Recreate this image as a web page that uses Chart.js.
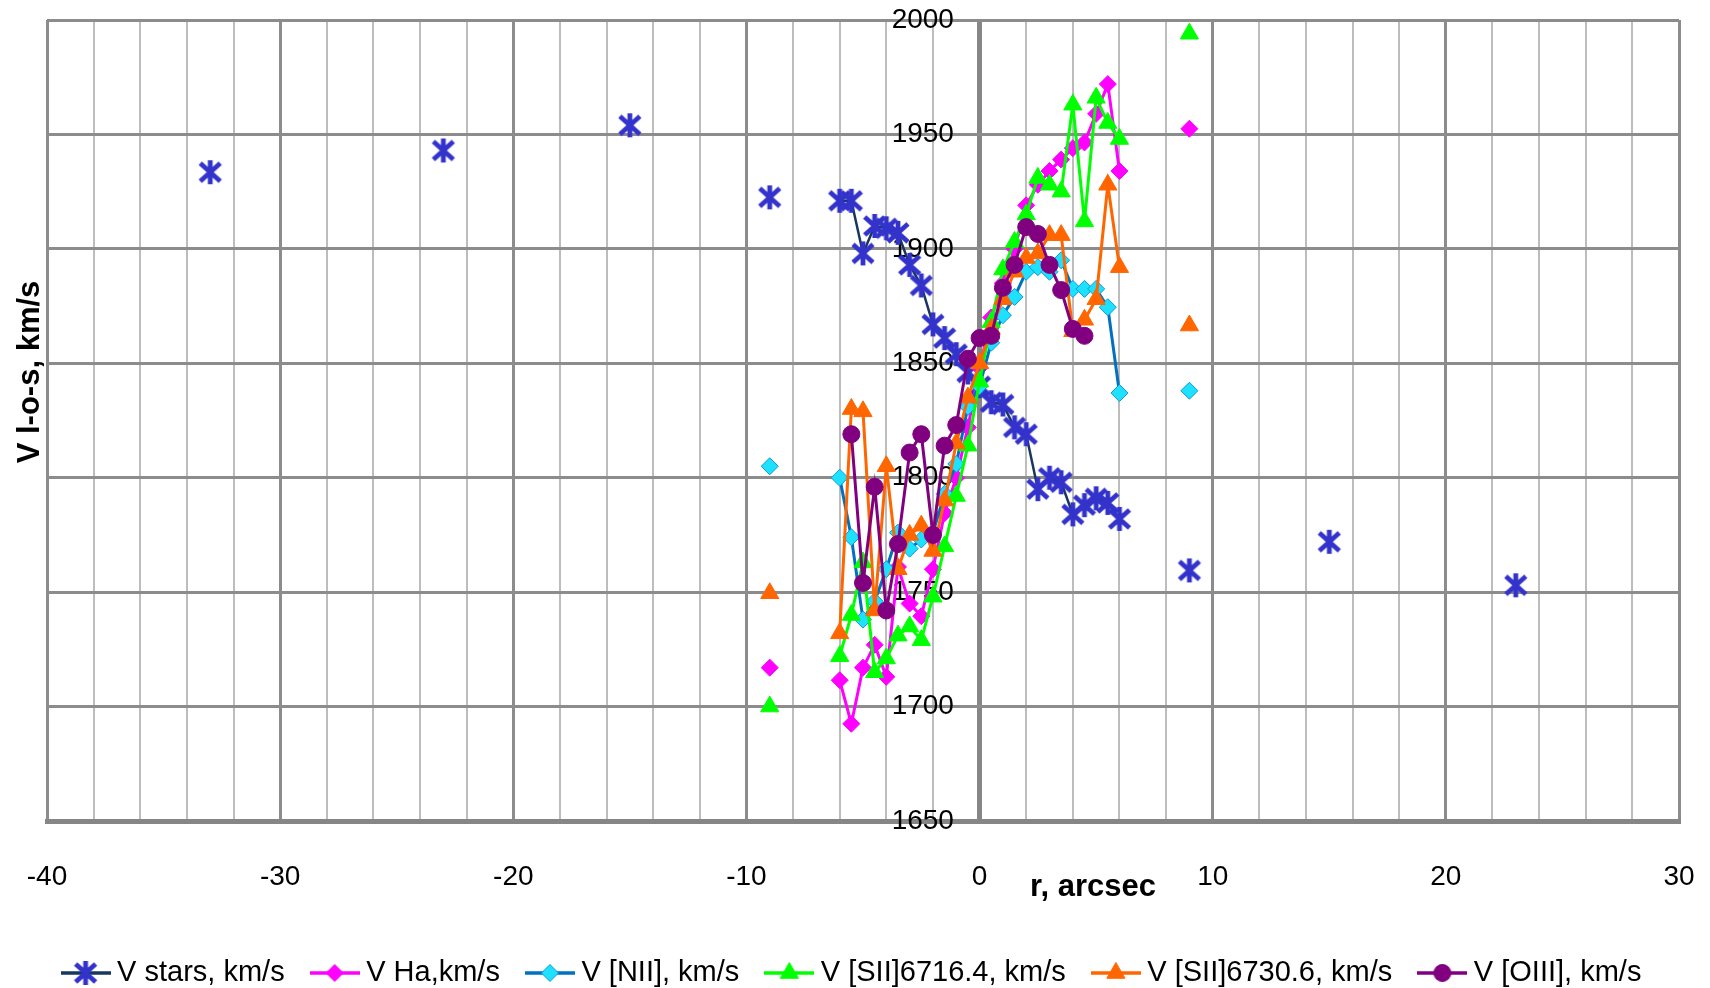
<!DOCTYPE html>
<html>
<head>
<meta charset="utf-8">
<title>V l-o-s vs r</title>
<script src="https://cdn.jsdelivr.net/npm/chart.js@4.4.1/dist/chart.umd.min.js"></script>
<style>
  html, body { margin: 0; padding: 0; background: #fff; }
  canvas { display: block; }
</style>
</head>
<body>
<canvas id="chart" width="1710" height="988"></canvas>
<script>
// slit positions, arcsec (central part sampled every 0.5")
const rCentral = [-6, -5.5, -5, -4.5, -4, -3.5, -3, -2.5, -2, -1.5, -1, -0.5, 0,
                  0.5, 1, 1.5, 2, 2.5, 3, 3.5, 4, 4.5, 5, 5.5, 6];
const rStarsLeft = [-33, -23, -15, -9];
const rStarsRight = [9, 15, 23];
const rGasLeft = [-9];
const rGasRight = [9];
const rNone = [];

// velocities, km/s
const vStars = [1921, 1921, 1898, 1910, 1909, 1907, 1893, 1884, 1867, 1861, 1854, 1846, 1840,
                1833, 1832, 1822, 1819, 1795, 1800, 1798, 1784, 1788, 1791, 1789, 1782];
const vStarsLeft = [1933.5, 1943, 1954, 1922.5];
const vStarsRight = [1759.5, 1772, 1753];

const vHa = [1711.5, 1692.5, 1717, 1727, 1713, 1761, 1745, 1739.5, 1760, 1784.5, 1800, 1822, 1848,
             1870, 1885, 1900, 1919, 1928, 1934, 1939, 1944, 1946.5, 1959, 1972, 1934];
const vHaLeft = [1717];
const vHaRight = [1952.5];

const vNII = [1800, 1774, 1738, 1746, 1760, 1776, 1769, 1773, 1776, 1793, 1806, 1831, 1840,
              1859, 1871, 1879, 1890, 1892, 1890, 1895, 1882.5, 1882.5, 1882.5, 1874.5, 1837];
const vNIILeft = [1805];
const vNIIRight = [1838];

const vSII6716 = [1722, 1740, 1763, 1715, 1721, 1731, 1735, 1729, 1748, 1770, 1792, 1814, 1842,
                  1868, 1891, 1903, 1915, 1931, 1928, 1925, 1963, 1912, 1966, 1955, 1948];
const vSII6716Left = [1700];
const vSII6716Right = [1994];

const vSII6730 = [1732, 1830, 1829, 1742, 1805, 1760, 1775, 1779, 1768, 1790, 1815, 1835, 1850,
                  1865, 1878, 1890, 1896, 1898, 1906, 1906, 1864, 1869, 1878, 1928, 1892];
const vSII6730Left = [1749.5];
const vSII6730Right = [1866.5];

const vOIII = [null, 1819, 1754, 1796, 1742, 1771, 1811, 1819, 1775, 1814, 1823, 1852, 1861,
               1862, 1883, 1893, 1909.5, 1906.5, 1893, 1882, 1865, 1862, null, null, null];

const seriesLabels = ['V stars, km/s', 'V Ha,km/s', 'V [NII], km/s',
                      'V [SII]6716.4, km/s', 'V [SII]6730.6, km/s', 'V [OIII], km/s'];
const xTitle = 'r, arcsec';
const yTitle = 'V l-o-s, km/s';

const FONT = '"Liberation Sans", Arial, sans-serif';
Chart.defaults.font.family = FONT;
Chart.defaults.color = '#000';

// outer points stay isolated, central run is connected (nulls break the line like Excel blanks)
function buildPoints(rLeft, vLeft, rMid, vMid, rRight, vRight) {
  const pts = [];
  rLeft.forEach((r, i) => pts.push({x: r, y: vLeft[i]}, {x: r, y: null}));
  rMid.forEach((r, i) => pts.push({x: r, y: vMid[i]}));
  rRight.forEach((r, i) => pts.push({x: r, y: null}, {x: r, y: vRight[i]}));
  return pts;
}

// Excel-like asterisk marker
function starMarker() {
  const c = document.createElement('canvas');
  c.width = 26; c.height = 28;
  const g = c.getContext('2d');
  g.strokeStyle = '#3333cc';
  g.lineWidth = 4.8;
  g.beginPath();
  g.moveTo(13, 2); g.lineTo(13, 26);
  g.moveTo(3, 5); g.lineTo(23, 23);
  g.moveTo(23, 5); g.lineTo(3, 23);
  g.stroke();
  return c;
}
const starImg = starMarker();

function shapePath(g, shape, r, x, y) {
  g.beginPath();
  if (shape === 'rectRot') {
    g.moveTo(x - r, y); g.lineTo(x, y - r); g.lineTo(x + r, y); g.lineTo(x, y + r);
  } else if (shape === 'triangle') {
    g.moveTo(x, y - r);
    g.lineTo(x + r * Math.sin(2 * Math.PI / 3), y - r * Math.cos(2 * Math.PI / 3));
    g.lineTo(x + r * Math.sin(4 * Math.PI / 3), y - r * Math.cos(4 * Math.PI / 3));
  } else {
    g.arc(x, y, r, 0, Math.PI * 2);
  }
  g.closePath();
}

// legend swatch: line segment with the marker in the middle
function legendIcon(ds) {
  const c = document.createElement('canvas');
  c.width = 50; c.height = 30;
  const g = c.getContext('2d');
  g.strokeStyle = ds.borderColor;
  g.lineWidth = 3.5;
  g.beginPath(); g.moveTo(0, 15); g.lineTo(50, 15); g.stroke();
  if (ds.pointStyle === starImg) {
    g.drawImage(starImg, 25 - starImg.width / 2, 15 - starImg.height / 2);
  } else {
    shapePath(g, ds.pointStyle, ds.pointRadius, 25, 15);
    g.fillStyle = ds.pointBackgroundColor;
    g.fill();
    g.lineWidth = ds.pointBorderWidth;
    g.strokeStyle = ds.pointBorderColor;
    g.stroke();
  }
  return c;
}

const datasets = [
  {
    label: seriesLabels[0],
    data: buildPoints(rStarsLeft, vStarsLeft, rCentral, vStars, rStarsRight, vStarsRight),
    borderColor: '#17375e', borderWidth: 2.5,
    pointStyle: starImg, pointRadius: 12,
    pointBackgroundColor: '#3333cc', pointBorderColor: '#3333cc', pointBorderWidth: 0,
    order: 6
  },
  {
    label: seriesLabels[1],
    data: buildPoints(rGasLeft, vHaLeft, rCentral, vHa, rGasRight, vHaRight),
    borderColor: '#ff00ff', borderWidth: 3,
    pointStyle: 'rectRot', pointRadius: 8.5,
    pointBackgroundColor: '#ff00ff', pointBorderColor: '#ff00ff', pointBorderWidth: 1,
    order: 5
  },
  {
    label: seriesLabels[2],
    data: buildPoints(rGasLeft, vNIILeft, rCentral, vNII, rGasRight, vNIIRight),
    borderColor: '#0070c0', borderWidth: 3,
    pointStyle: 'rectRot', pointRadius: 8.5,
    pointBackgroundColor: '#1ee0ff', pointBorderColor: '#0c9ad8', pointBorderWidth: 1,
    order: 4
  },
  {
    label: seriesLabels[3],
    data: buildPoints(rGasLeft, vSII6716Left, rCentral, vSII6716, rGasRight, vSII6716Right),
    borderColor: '#00ff00', borderWidth: 3,
    pointStyle: 'triangle', pointRadius: 10.5,
    pointBackgroundColor: '#00ff00', pointBorderColor: '#00ff00', pointBorderWidth: 1,
    order: 3
  },
  {
    label: seriesLabels[4],
    data: buildPoints(rGasLeft, vSII6730Left, rCentral, vSII6730, rGasRight, vSII6730Right),
    borderColor: '#ff6600', borderWidth: 3,
    pointStyle: 'triangle', pointRadius: 10.5,
    pointBackgroundColor: '#ff6600', pointBorderColor: '#ff6600', pointBorderWidth: 1,
    order: 2
  },
  {
    label: seriesLabels[5],
    data: buildPoints(rNone, rNone, rCentral, vOIII, rNone, rNone),
    borderColor: '#800080', borderWidth: 3,
    pointStyle: 'circle', pointRadius: 8.5,
    pointBackgroundColor: '#800080', pointBorderColor: '#800080', pointBorderWidth: 1,
    order: 1
  }
];
datasets.forEach(ds => {
  ds.tension = 0;
  ds.fill = false;
  ds.spanGaps = false;
  ds.xAxisID = 'x';
  ds.yAxisID = 'y';
});
const legendIcons = datasets.map(legendIcon);

// axis titles sit where Excel put them, not centred on the axes
const axisTitles = {
  id: 'axisTitles',
  afterDraw(chart) {
    const {ctx, chartArea} = chart;
    ctx.save();
    ctx.fillStyle = '#000';
    ctx.font = 'bold 31px ' + FONT;
    ctx.textAlign = 'center';
    ctx.textBaseline = 'middle';
    ctx.fillText(xTitle, chartArea.left + 1046, chartArea.bottom + 66);
    ctx.translate(30, chartArea.top + 352);
    ctx.rotate(-Math.PI / 2);
    ctx.fillText(yTitle, 0, 0);
    ctx.restore();
  }
};

// empty side boxes that only reserve the margins (keeps the legend on one full-width row)
function spacer(position, width) {
  return {
    type: 'linear',
    position,
    display: true,
    ticks: { display: false },
    grid: { display: false, drawTicks: false },
    border: { display: false },
    afterFit: s => { s.width = width; }
  };
}

new Chart(document.getElementById('chart'), {
  type: 'line',
  data: { datasets },
  options: {
    responsive: false,
    animation: false,
    devicePixelRatio: 1,
    events: [],
    layout: { padding: { left: 0, right: 0, top: 20, bottom: -9.5 } },
    scales: {
      x: {
        type: 'linear',
        min: -40,
        max: 30,
        ticks: {
          stepSize: 2,
          autoSkip: false,
          maxRotation: 0,
          padding: 0,
          font: { size: 28 },
          callback: v => (v % 10 === 0 ? String(v) : '')
        },
        grid: {
          drawTicks: true,
          tickLength: 39,
          tickColor: 'rgba(0,0,0,0)',
          color: c => (c.tick.value === 0 ? '#868686' : c.tick.value % 10 === 0 ? '#8c8c8c' : '#bdbdbd'),
          lineWidth: c => (c.tick.value === 0 ? 5 : c.tick.value % 10 === 0 ? 3 : 2)
        },
        border: { display: true, color: '#868686', width: 5 },
        afterFit: s => { s.height = 104.5; }
      },
      y: {
        type: 'linear',
        min: 1650,
        max: 2000,
        position: { x: -1.1 },
        ticks: { stepSize: 50, font: { size: 28 }, padding: 0, callback: v => String(v) },
        grid: { drawTicks: false, color: '#8c8c8c', lineWidth: 3 },
        border: { display: false }
      },
      padLeft: spacer('left', 47),
      padRight: spacer('right', 31)
    },
    plugins: {
      tooltip: { enabled: false },
      legend: {
        position: 'bottom',
        labels: {
          usePointStyle: true,
          pointStyleWidth: 34,
          padding: 33,
          font: { size: 29 },
          generateLabels: chart => chart.data.datasets.map((ds, i) => ({
            text: ds.label,
            datasetIndex: i,
            pointStyle: legendIcons[i],
            fillStyle: 'rgba(0,0,0,0)',
            strokeStyle: 'rgba(0,0,0,0)',
            lineWidth: 0,
            hidden: false,
            fontColor: '#000'
          }))
        }
      }
    }
  },
  plugins: [axisTitles]
});
</script>
</body>
</html>
